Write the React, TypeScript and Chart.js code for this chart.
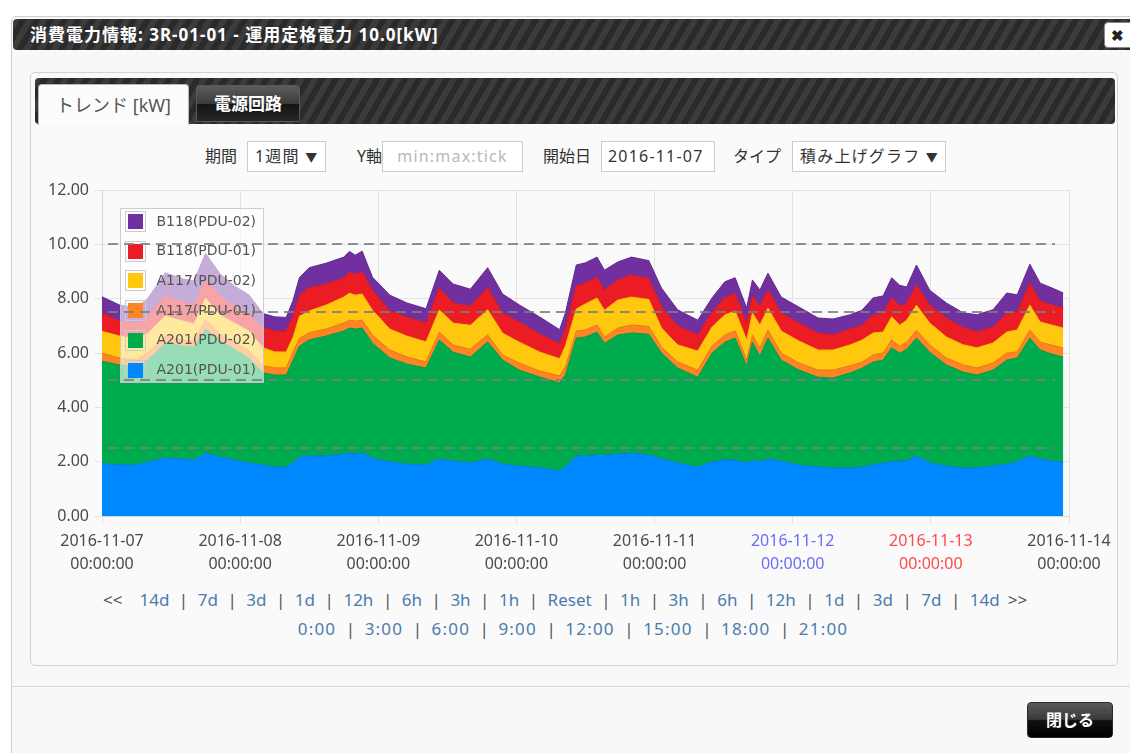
import React, { useEffect, useRef } from "react";
import { Chart, registerables } from "chart.js";

Chart.register(...registerables);

// ---- data ----
const hours = [0, 3, 6, 8, 11, 14, 16, 18, 20.5, 23, 25.5, 28, 30, 32, 33.2, 34.3, 36, 39, 42, 43, 44, 45.2, 47, 50, 53, 56.3, 58.6, 61, 64, 67, 69.6, 72.5, 76, 79.5, 80.5, 82.4, 84, 86, 87.3, 89.6, 92, 95, 97.2, 100, 103.5, 106, 108.2, 110, 112, 113, 114.3, 115.7, 118, 121, 124.4, 127, 130, 132, 134, 135.7, 137.2, 138.6, 139.8, 141.5, 143.8, 146.7, 149.6, 152, 154.8, 157.2, 159, 161.2, 163, 165, 167];

const a201pdu01 = [1.93, 1.88, 1.88, 1.99, 2.13, 2.10, 2.06, 2.32, 2.17, 2.06, 1.95, 1.88, 1.80, 1.80, 1.95, 2.17, 2.21, 2.21, 2.28, 2.32, 2.28, 2.32, 2.13, 1.99, 1.91, 1.88, 2.10, 2.02, 1.95, 2.10, 1.91, 1.84, 1.77, 1.66, 1.80, 2.21, 2.21, 2.24, 2.24, 2.28, 2.32, 2.24, 2.10, 1.95, 1.80, 1.99, 2.06, 2.06, 1.95, 2.06, 1.99, 2.10, 2.02, 1.88, 1.80, 1.77, 1.77, 1.80, 1.88, 1.95, 1.99, 2.02, 2.02, 2.21, 1.95, 1.84, 1.77, 1.77, 1.84, 1.91, 1.99, 2.21, 2.10, 2.02, 1.99];
const a201pdu02 = [3.77, 3.68, 3.61, 3.75, 4.23, 4.16, 4.16, 4.56, 4.27, 4.08, 3.86, 3.39, 3.39, 3.39, 3.79, 4.08, 4.27, 4.42, 4.53, 4.60, 4.60, 4.60, 4.23, 3.83, 3.68, 3.57, 4.38, 4.01, 3.90, 4.31, 3.83, 3.53, 3.35, 3.24, 3.39, 4.34, 4.38, 4.53, 4.12, 4.38, 4.42, 4.45, 3.90, 3.50, 3.31, 4.01, 4.34, 4.49, 3.57, 4.34, 3.90, 4.45, 3.72, 3.50, 3.31, 3.31, 3.50, 3.64, 3.79, 3.79, 4.20, 3.97, 4.12, 4.34, 4.08, 3.72, 3.53, 3.42, 3.53, 3.83, 3.83, 4.34, 4.01, 3.94, 3.86];
const a117pdu01 = [0.29, 0.26, 0.26, 0.29, 0.26, 0.22, 0.22, 0.33, 0.26, 0.26, 0.26, 0.26, 0.26, 0.26, 0.29, 0.29, 0.26, 0.26, 0.29, 0.29, 0.29, 0.29, 0.29, 0.29, 0.26, 0.22, 0.29, 0.26, 0.29, 0.26, 0.18, 0.26, 0.22, 0.26, 0.29, 0.26, 0.26, 0.26, 0.22, 0.26, 0.29, 0.29, 0.22, 0.22, 0.26, 0.26, 0.26, 0.26, 0.22, 0.26, 0.29, 0.29, 0.26, 0.26, 0.26, 0.29, 0.26, 0.22, 0.26, 0.26, 0.29, 0.26, 0.26, 0.29, 0.26, 0.26, 0.26, 0.26, 0.26, 0.26, 0.22, 0.29, 0.29, 0.33, 0.33];
const a117pdu02 = [0.81, 0.81, 0.77, 0.70, 0.74, 0.70, 0.63, 0.81, 0.70, 0.70, 0.74, 0.66, 0.59, 0.59, 0.55, 0.81, 0.81, 0.88, 0.96, 0.99, 0.96, 0.96, 0.92, 0.77, 0.77, 0.74, 0.81, 0.81, 0.88, 0.92, 0.81, 0.77, 0.70, 0.63, 0.77, 0.81, 0.96, 0.99, 0.99, 1.03, 1.03, 0.99, 0.70, 0.63, 0.70, 0.70, 0.74, 0.74, 0.74, 0.81, 0.85, 0.81, 0.81, 0.81, 0.74, 0.74, 0.77, 0.81, 0.81, 0.77, 0.85, 0.77, 0.81, 0.92, 0.81, 0.77, 0.74, 0.74, 0.74, 0.77, 0.81, 0.92, 0.74, 0.74, 0.74];
const b118pdu01 = [0.66, 0.55, 0.55, 0.63, 0.74, 0.70, 0.70, 0.66, 0.70, 0.63, 0.63, 0.74, 0.77, 0.77, 0.77, 0.77, 0.85, 0.77, 0.70, 0.77, 0.77, 0.81, 0.74, 0.66, 0.70, 0.70, 0.81, 0.74, 0.70, 0.81, 0.74, 0.74, 0.66, 0.55, 0.63, 0.85, 0.77, 0.77, 0.74, 0.74, 0.81, 0.77, 0.77, 0.70, 0.59, 0.55, 0.63, 0.63, 0.63, 0.63, 0.70, 0.66, 0.66, 0.66, 0.63, 0.55, 0.59, 0.55, 0.66, 0.70, 0.70, 0.70, 0.63, 0.74, 0.66, 0.70, 0.63, 0.59, 0.59, 0.70, 0.66, 0.81, 0.77, 0.74, 0.74];
const b118pdu02 = [0.61, 0.59, 0.59, 0.66, 0.85, 0.85, 0.88, 0.99, 0.81, 0.74, 0.70, 0.52, 0.52, 0.50, 0.59, 0.66, 0.74, 0.77, 0.77, 0.77, 0.70, 0.77, 0.48, 0.59, 0.52, 0.52, 0.66, 0.70, 0.63, 0.74, 0.70, 0.63, 0.63, 0.52, 0.59, 0.77, 0.74, 0.74, 0.74, 0.66, 0.66, 0.66, 0.70, 0.59, 0.55, 0.52, 0.59, 0.59, 0.55, 0.59, 0.59, 0.63, 0.59, 0.59, 0.55, 0.59, 0.52, 0.55, 0.63, 0.63, 0.74, 0.77, 0.59, 0.74, 0.55, 0.55, 0.55, 0.63, 0.63, 0.74, 0.63, 0.70, 0.66, 0.63, 0.55];

const seriesLabels = ["A201(PDU-01)", "A201(PDU-02)", "A117(PDU-01)", "A117(PDU-02)", "B118(PDU-01)", "B118(PDU-02)"];
const seriesValues = [a201pdu01, a201pdu02, a117pdu01, a117pdu02, b118pdu01, b118pdu02];
const seriesColors = ["#0088ff", "#00ab4e", "#ff8424", "#ffc70d", "#ec1c24", "#7030a0"];
const seriesEdges = ["#0078e6", "#009a46", "#ec7218", "#f2b600", "#d8141c", "#622890"];

const xDates = ["2016-11-07", "2016-11-08", "2016-11-09", "2016-11-10", "2016-11-11", "2016-11-12", "2016-11-13", "2016-11-14"];
const xTime = "00:00:00";
const yMin = 0;
const yMax = 12;
const yStep = 2;
const ratedLevels = [2.5, 5, 7.5, 10];

const navLinks = ["14d", "7d", "3d", "1d", "12h", "6h", "3h", "1h", "Reset", "1h", "3h", "6h", "12h", "1d", "3d", "7d", "14d"];
const hourLinks = ["0:00", "3:00", "6:00", "9:00", "12:00", "15:00", "18:00", "21:00"];

const FONT = '"Noto Sans", "Noto Sans CJK JP", sans-serif';
const STRIPES = "repeating-linear-gradient(120deg, #3b3b3b 0px, #3b3b3b 6px, #2a2a2a 6px, #2a2a2a 12px)";

const overlayPlugin = {
  id: "overlay",
  afterDatasetsDraw(chart: any) {
    const { ctx, chartArea: a, scales } = chart;
    ctx.save();
    // legend box inside plot
    const lx = a.left + 18.5;
    const ly = a.top + 18.5;
    const lw = 143;
    const lh = 174;
    ctx.fillStyle = "rgba(255,255,255,0.6)";
    ctx.fillRect(lx, ly, lw, lh);
    ctx.strokeStyle = "rgba(200,200,200,0.9)";
    ctx.lineWidth = 1;
    ctx.strokeRect(lx, ly, lw, lh);
    const ds = chart.data.datasets.slice().reverse();
    ds.forEach((d: any, i: number) => {
      const cy = ly + 12.5 + i * 29.7;
      ctx.strokeStyle = "#cccccc";
      ctx.strokeRect(lx + 5, Math.round(cy) - 9.5, 20, 20);
      ctx.fillStyle = d.backgroundColor;
      ctx.fillRect(lx + 7.5, Math.round(cy) - 7, 15, 15);
      ctx.fillStyle = "#545454";
      ctx.font = '14px "DejaVu Sans", sans-serif';
      ctx.textBaseline = "middle";
      ctx.textAlign = "left";
      ctx.fillText(d.label, lx + 36, cy + 1);
    });
    // rated power dashed lines
    ctx.strokeStyle = "rgba(125,125,125,0.85)";
    ctx.lineWidth = 2;
    ctx.setLineDash([10, 6]);
    ratedLevels.forEach((v) => {
      const y = Math.round(scales.y.getPixelForValue(v));
      ctx.beginPath();
      ctx.moveTo(a.left + 6, y);
      ctx.lineTo(a.right - 14, y);
      ctx.stroke();
    });
    ctx.restore();
  },
};

function Sep({ m }: { m: number }) {
  return <span style={{ color: "#555", margin: `0 ${m}px`, letterSpacing: 0 }}>|</span>;
}

export default function App() {
  const ref = useRef<HTMLCanvasElement>(null);

  useEffect(() => {
    if (!ref.current) return;
    const datasets = seriesLabels.map((label, i) => ({
      label,
      data: hours.map((h, j) => ({ x: h, y: seriesValues[i][j] })),
      backgroundColor: seriesColors[i],
      borderColor: seriesEdges[i],
      borderWidth: 1,
      pointRadius: 0,
      tension: 0,
      fill: i === 0 ? "origin" : "-1",
    }));
    const chart = new Chart(ref.current, {
      type: "line",
      data: { datasets },
      options: {
        animation: false,
        responsive: false,
        devicePixelRatio: 1,
        layout: { padding: { top: 16, right: 48, left: 0, bottom: 0 } },
        plugins: { legend: { display: false }, tooltip: { enabled: false } },
        scales: {
          x: {
            type: "linear",
            min: 0,
            max: 168,
            afterFit: (s: any) => {
              s.height = 64;
            },
            grid: { color: "#e3e3e3", tickLength: 8, drawTicks: true },
            border: { color: "#d6d6d6" },
            ticks: {
              stepSize: 24,
              autoSkip: false,
              maxRotation: 0,
              padding: 6,
              font: { family: FONT, size: 16, lineHeight: "23px" },
              color: (c: any) => (c.index === 5 ? "#6b6bff" : c.index === 6 ? "#ff4a4a" : "#4a4a4a"),
              callback: (v: any) => {
                const i = Math.round(Number(v) / 24);
                return [xDates[i], xTime];
              },
            },
          },
          y: {
            stacked: true,
            min: yMin,
            max: yMax,
            afterFit: (s: any) => {
              s.width = 62;
            },
            grid: { color: "#e3e3e3", tickLength: 7, drawTicks: true },
            border: { color: "#d6d6d6" },
            ticks: {
              stepSize: yStep,
              padding: 6,
              font: { family: FONT, size: 16 },
              color: "#4a4a4a",
              callback: (v: any) => Number(v).toFixed(2),
            },
          },
        },
      },
      plugins: [overlayPlugin],
    } as any);
    return () => chart.destroy();
  }, []);

  const abs = (l: number, t: number, extra: any = {}) => ({ position: "absolute" as const, left: l, top: t, ...extra });
  const label = { fontSize: 16, color: "#333", lineHeight: "31px" };
  const box = { height: 29, border: "1px solid #ccc", background: "#fff", fontSize: 16, lineHeight: "29px", color: "#333", boxSizing: "content-box" as const, letterSpacing: 1.2, whiteSpace: "nowrap" as const };

  return (
    <div style={{ position: "absolute", left: 0, top: 0, width: 1130, height: 753, overflow: "hidden", background: "#fff", fontFamily: FONT }}>
      {/* dialog */}
      <div style={abs(11, 16, { width: 1140, height: 760, border: "1px solid #cfcfcf", borderRadius: 5, background: "#f8f8f8" })} />
      {/* header */}
      <div style={abs(13, 19, { width: 1130, height: 31, background: STRIPES, borderRadius: "4px 0 0 4px" })} />
      <div style={abs(30, 19, { height: 31, lineHeight: "31px", color: "#fff", fontWeight: 700, fontSize: 17, letterSpacing: 1, whiteSpace: "nowrap" })}>
        消費電力情報: 3R-01-01 - 運用定格電力 10.0[kW]
      </div>
      <div style={abs(1104, 22, { width: 30, height: 24, background: "#fff", border: "1px solid #888", borderRadius: 4, color: "#222", fontWeight: 900, fontSize: 15, lineHeight: "24px", textIndent: 6 })}>✖</div>

      {/* panel */}
      <div style={abs(30, 72, { width: 1086, height: 592, border: "1px solid #d2d2d2", borderRadius: 5, background: "#fafafa" })} />
      <div style={abs(35, 78, { width: 1080, height: 46, background: STRIPES, borderRadius: 4 })} />
      <div style={abs(38, 84, { width: 151, height: 41, background: "#fcfcfc", border: "1px solid #b8b8b8", borderBottom: "none", borderRadius: "4px 4px 0 0", color: "#555", fontSize: 18, lineHeight: "40px", textAlign: "center", boxSizing: "border-box", whiteSpace: "nowrap" })}>
        トレンド [kW]
      </div>
      <div style={abs(196, 85, { width: 104, height: 37, background: "linear-gradient(#5c5c5c 0%, #3c3c3c 50%, #151515 52%, #262626 100%)", border: "1px solid #5a5a5a", borderRadius: "4px 4px 0 0", color: "#fff", fontWeight: 700, fontSize: 17, lineHeight: "35px", textAlign: "center", boxSizing: "border-box" })}>
        電源回路
      </div>

      {/* controls */}
      <div style={abs(205, 141, label)}>期間</div>
      <div style={abs(247, 141, { ...box, width: 70, paddingLeft: 7 })}>1週間 <span style={{ fontSize: 12 }}>▼</span></div>
      <div style={abs(357, 141, label)}>Y軸</div>
      <div style={abs(382, 141, { ...box, width: 139, textAlign: "center", color: "#b8b8b8" })}>min:max:tick</div>
      <div style={abs(543, 141, label)}>開始日</div>
      <div style={abs(601, 141, { ...box, width: 106, paddingLeft: 6 })}>2016-11-07</div>
      <div style={abs(733, 141, label)}>タイプ</div>
      <div style={abs(792, 141, { ...box, width: 145, paddingLeft: 7 })}>積み上げグラフ <span style={{ fontSize: 12 }}>▼</span></div>

      {/* chart */}
      <div style={abs(40, 174, { width: 1077, height: 406 })}>
        <canvas ref={ref} width={1077} height={406} style={{ width: 1077, height: 406, display: "block" }} />
      </div>

      {/* navigation links */}
      <div style={abs(103, 586, { whiteSpace: "nowrap", fontSize: 17, lineHeight: "28px" })}>
        <span style={{ color: "#555", marginRight: 17 }}>&lt;&lt;</span>
        {navLinks.map((t, i) => (
          <React.Fragment key={i}>
            {i > 0 && <Sep m={9.5} />}
            <span style={{ color: "#4a7cae" }}>{t}</span>
          </React.Fragment>
        ))}
        <span style={{ color: "#555", marginLeft: 8 }}>&gt;&gt;</span>
      </div>
      <div style={abs(30, 615, { width: 1086, textAlign: "center", fontSize: 17, lineHeight: "28px", whiteSpace: "nowrap" })}>
        {hourLinks.map((t, i) => (
          <React.Fragment key={i}>
            {i > 0 && <Sep m={9.5} />}
            <span style={{ color: "#4a7cae", letterSpacing: 1.2 }}>{t}</span>
          </React.Fragment>
        ))}
      </div>

      {/* footer */}
      <div style={abs(11, 686, { width: 1130, height: 1, background: "#d8d8d8" })} />
      <div style={abs(1027, 702, { width: 86, height: 36, background: "linear-gradient(#5a5a5a 0%, #3a3a3a 48%, #111 52%, #000 100%)", border: "1px solid #2a2a2a", borderRadius: 4, color: "#fff", fontWeight: 700, fontSize: 16, lineHeight: "34px", textAlign: "center", boxSizing: "border-box" })}>
        閉じる
      </div>
    </div>
  );
}
